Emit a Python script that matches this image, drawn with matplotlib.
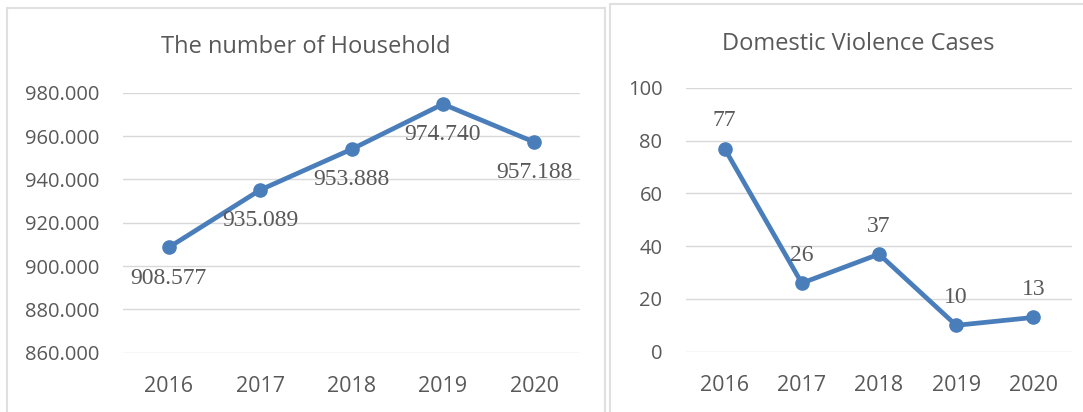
import matplotlib
matplotlib.use("Agg")
import matplotlib.pyplot as plt
from matplotlib.patches import Rectangle

years = ["2016", "2017", "2018", "2019", "2020"]
households = [908.577, 935.089, 953.888, 974.740, 957.188]
household_labels = ["908.577", "935.089", "953.888", "974.740", "957.188"]
household_ticks = [860, 880, 900, 920, 940, 960, 980]
household_ticklabels = ["860.000", "880.000", "900.000", "920.000", "940.000", "960.000", "980.000"]
violence_cases = [77, 26, 37, 10, 13]
violence_ticks = [0, 20, 40, 60, 80, 100]

LINE = "#4a7ebb"
TEXT = "#595959"
GRID = "#d9d9d9"
SANS = "Open Sans"
SERIF = "Liberation Serif"

fig = plt.figure(figsize=(10.83, 4.12), dpi=100)
fig.patch.set_facecolor("white")

# panel borders
W, H = 1083, 412
for x0, x1, ytop in [(7, 605, 8), (610, 1090, 4)]:
    fig.patches.append(Rectangle((x0 / W, -0.05), (x1 - x0) / W, 1.05 - ytop / H,
                                 transform=fig.transFigure, fill=False,
                                 edgecolor="#e0e0e0", linewidth=1.5))


def style_axis(ax, ticks, ticklabels, ylim):
    x = list(range(len(years)))
    ax.set_xlim(-0.5, len(years) - 0.5)
    ax.set_ylim(*ylim)
    ax.set_yticks(ticks)
    ax.set_yticklabels(ticklabels, fontfamily=SANS, fontsize=14.5, color=TEXT)
    ax.set_xticks(x)
    ax.set_xticklabels(years, fontfamily=SANS, fontsize=15.5, color=TEXT)
    ax.tick_params(axis="y", length=0, pad=17)
    ax.tick_params(axis="x", length=0, pad=17)
    ax.grid(True, axis="y", color=GRID, linewidth=1.0)
    ax.set_axisbelow(True)
    for s in ax.spines.values():
        s.set_visible(False)
    return x


# ---- left: households ----
ax1 = fig.add_axes([123 / W, 1 - 352.7 / H, 457 / W, 260 / H])
x = style_axis(ax1, household_ticks, household_ticklabels, (860, 980))
ax1.plot(x, households, color=LINE, linewidth=3.4, marker="o", markersize=9.5,
         solid_capstyle="round", clip_on=False)
for xi, yi, lab in zip(x, households, household_labels):
    ax1.annotate(lab, (xi, yi), xytext=(0, -22), textcoords="offset points",
                 ha="center", va="center", fontfamily=SERIF, fontsize=17, color=TEXT)
fig.text(306 / W, 1 - 53 / H, "The number of Household", ha="center", va="baseline",
         fontfamily=SANS, fontsize=17, color=TEXT)

# ---- right: domestic violence ----
ax2 = fig.add_axes([686 / W, 1 - 351.7 / H, 386 / W, 263.7 / H])
x = style_axis(ax2, violence_ticks, [str(t) for t in violence_ticks], (0, 100))
ax2.plot(x, violence_cases, color=LINE, linewidth=3.4, marker="o", markersize=9.5,
         solid_capstyle="round", clip_on=False)
for xi, yi in zip(x, violence_cases):
    ax2.annotate(str(yi), (xi, yi), xytext=(0, 20), textcoords="offset points",
                 ha="center", va="center", fontfamily=SERIF, fontsize=17, color=TEXT)
fig.text(858 / W, 1 - 50 / H, "Domestic Violence Cases", ha="center", va="baseline",
         fontfamily=SANS, fontsize=17, color=TEXT)

fig.savefig("out.png", dpi=100)
